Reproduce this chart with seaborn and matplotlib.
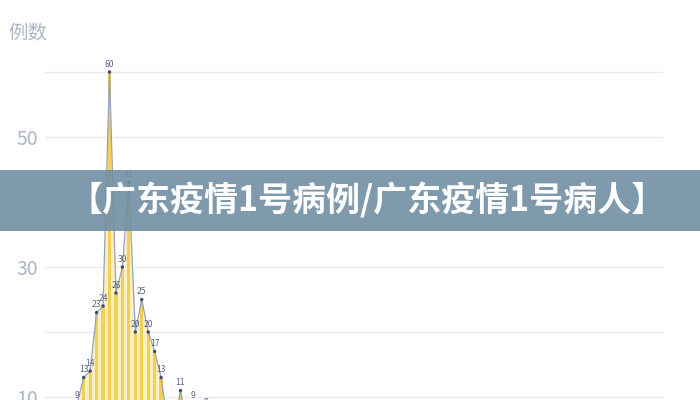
import matplotlib
matplotlib.use("Agg")
import matplotlib.pyplot as plt
from matplotlib.patches import Rectangle
import numpy as np
import pandas as pd
import seaborn as sns

sns.set_theme(style="white")
plt.rcParams["font.family"] = ["Noto Sans CJK SC", "DejaVu Sans"]

# daily case counts (values below ~9.5 fall outside the cropped view)
day_index = list(range(46))
cases = [2, 3, 4, 6, 7,
         9, 13, 14, 23, 24, 60, 26, 30, 43, 20, 25, 20, 17, 13,
         6, 5, 11, 6, 9, 5, 8,
         4, 6, 3, 5, 2, 4, 3, 2, 1, 3, 2, 1, 2, 1, 1, 0, 1, 0, 0, 0]
y_ticks = [10, 20, 30, 40, 50, 60]
y_tick_labels = ["10", "", "30", "", "50", ""]
y_title = "例数"
banner_title = "【广东疫情1号病例/广东疫情1号病人】"

df = pd.DataFrame({"day": day_index, "cases": cases})

fig = plt.figure(figsize=(7, 4), dpi=100)
ax = fig.add_axes([45 / 700, 0, 618 / 700, 1])

# pale area under the curve, striped bars, thin line with dots
ax.fill_between(df["day"], df["cases"], 0, color="#fcf0c4", lw=0, zorder=1)
sns.barplot(data=df, x="day", y="cases", native_scale=True, width=0.5,
            color="#f2cf55", saturation=1, linewidth=0, ax=ax, zorder=2)
sns.lineplot(data=df, x="day", y="cases", color="#97a2b8", lw=0.9, ax=ax, zorder=3)
sns.scatterplot(data=df, x="day", y="cases", s=6, color="#3b4a6e",
                edgecolor="none", ax=ax, zorder=4)

# value labels (only those that can reach the visible strip)
for d, v in zip(df["day"], df["cases"]):
    if v < 8:
        continue
    ax.annotate(str(v), (d, v), xytext=(0, 2.5), textcoords="offset points",
                ha="center", va="bottom", fontsize=6.2, color="#55658c",
                annotation_clip=False, zorder=5)

ax.set_xlim(0, 618 / 6.45)
ax.set_ylim(9.54, 71.08)
ax.set_yticks(y_ticks)
ax.set_yticklabels(y_tick_labels)
ax.set_xticks([])
ax.set_xlabel("")
ax.set_ylabel("")
ax.tick_params(axis="y", length=0, pad=5, labelsize=14, labelcolor="#adb5c6")
ax.grid(axis="y", color="#ebebeb", lw=1)
ax.set_axisbelow(True)
for s in ax.spines.values():
    s.set_visible(False)

fig.text(8 / 700, 1 - 34 / 400, y_title, fontsize=14, color="#adb5c6",
         ha="left", va="center")

# overlaid title banner
fig.add_artist(Rectangle((0, 1 - 230.5 / 400), 1, 61 / 400, transform=fig.transFigure,
                         facecolor="#718fa3", alpha=0.9, edgecolor="none", zorder=10))
fig.text(367 / 700, 1 - 200 / 400, banner_title, fontsize=24.5, fontweight="heavy",
         color="white", ha="center", va="center", zorder=11)

fig.savefig("out.png", dpi=100)
